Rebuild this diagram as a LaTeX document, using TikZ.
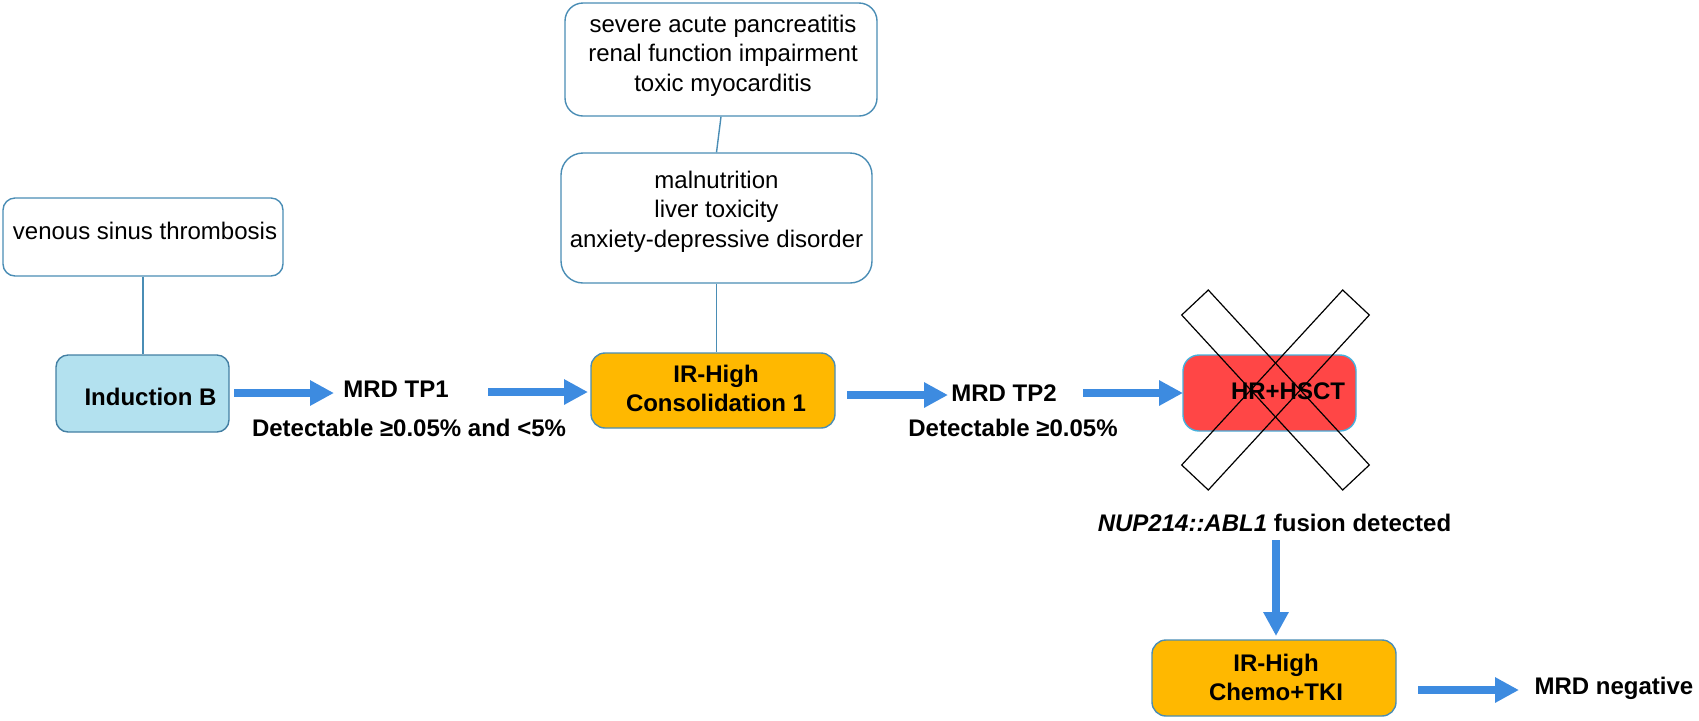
\documentclass[tikz,border=0pt]{standalone}
\usepackage{fontspec}
\setmainfont{Liberation Sans}
\usetikzlibrary{arrows.meta}
\definecolor{edgeblue}{HTML}{4A8DB5}
\definecolor{indfill}{HTML}{B3E1EF}
\definecolor{orangefill}{HTML}{FFB800}
\definecolor{redfill}{HTML}{FF4646}
\definecolor{rededge}{HTML}{45B0DC}
\definecolor{arrowblue}{HTML}{3D8BE0}
\tikzset{
  txt/.style={inner sep=0pt, font=\fontsize{12}{14.75}\selectfont, align=center},
  btxt/.style={inner sep=0pt, font=\fontsize{12}{14.5}\selectfont\bfseries, align=center},
  wbox/.style={draw=edgeblue, line width=0.7pt, fill=white, rounded corners=7pt, inner sep=0pt},
  link/.style={draw=edgeblue, line width=0.7pt},
  bar/.style={draw=arrowblue, line width=4pt, -{Triangle[width=12pt,length=12pt]}, arrowblue},
  cross/.style={draw=black, line width=0.6pt}
}
\begin{document}
\begin{tikzpicture}[x=0.5pt,y=-0.5pt]
\useasboundingbox (0,0) rectangle (1699,720);
% boxes
\node[wbox, minimum width=140pt, minimum height=39pt, rounded corners=6pt] (ven) at (143,237) {};
\node[txt] (ventxt) at (145,231) {venous sinus thrombosis};
\node[wbox, fill=indfill, draw=edgeblue!90!black, minimum width=86.5pt, minimum height=38.5pt, rounded corners=6pt] (ind) at (142.5,393.5) {};
\node[btxt] (indtxt) at (150.5,397) {Induction B};

\node[wbox, minimum width=156pt, minimum height=56.5pt, rounded corners=9pt] (top1) at (721,59.5) {};
\node[txt] (top1txt) at (723,55.5) {severe acute pancreatitis\\renal function impairment\\toxic myocarditis};
\node[wbox, minimum width=155.5pt, minimum height=65pt, rounded corners=11pt] (top2) at (716.5,218) {};
\node[txt] (top2txt) at (716.5,211.5) {malnutrition\\liver toxicity\\anxiety-depressive disorder};

\node[wbox, fill=orangefill, minimum width=122pt, minimum height=37.5pt, rounded corners=7pt] (cons) at (713,390.5) {};
\node[btxt] (constxt) at (716,388) {IR-High\\Consolidation 1};

\node[wbox, fill=redfill, draw=rededge, minimum width=86.5pt, minimum height=38pt, rounded corners=8pt] (hr) at (1269.5,393) {};
\node[btxt] (hrtxt) at (1288,391) {HR+HSCT};

\node[wbox, fill=orangefill, minimum width=122pt, minimum height=38pt, rounded corners=7pt] (chemo) at (1274,678) {};
\node[btxt] (chemotxt) at (1276,677) {IR-High\\Chemo+TKI};

% labels
\node[btxt] (tp1) at (396,389) {MRD TP1};
\node[btxt] (det1) at (409,428) {Detectable ≥0.05\% and <5\%};
\node[btxt] (tp2) at (1004,393) {MRD TP2};
\node[btxt] (det2) at (1013,428) {Detectable ≥0.05\%};
\node[btxt] (nup) at (1274.5,523) {\textit{NUP214::ABL1} fusion detected};
\node[btxt] (neg) at (1614,688) {MRD negative};

% thin connectors
\draw[link] (ven.south) -- (ven.south |- ind.north);
\draw[link] (top1.south) -- (top2.north);
\draw[link] (top2.south) -- (top2.south |- cons.north);

% arrows
\coordinate (a1s) at (234,393); \coordinate (a1e) at (334,393);
\coordinate (a2s) at (488,392); \coordinate (a2e) at (588,392);
\coordinate (a3s) at (847,395); \coordinate (a3e) at (948,395);
\coordinate (a4s) at (1083,393); \coordinate (a4e) at (1183,393);
\coordinate (a5s) at (1276,540); \coordinate (a5e) at (1276,636);
\coordinate (a6s) at (1418,690); \coordinate (a6e) at (1519,690);
\draw[bar] (a1s) -- (a1e);
\draw[bar] (a2s) -- (a2e);
\draw[bar] (a3s) -- (a3e);
\draw[bar] (a4s) -- (a4e);
\draw[bar] (a5s) -- (a5e);
\draw[bar] (a6s) -- (a6e);

% cross over HR box
\draw[cross] (1181.7,315) -- (1208.3,290) -- (1369.3,465) -- (1342.7,490) -- cycle;
\draw[cross] (1342.7,290) -- (1369.3,315) -- (1208.3,490) -- (1181.7,465) -- cycle;
\end{tikzpicture}
\end{document}
